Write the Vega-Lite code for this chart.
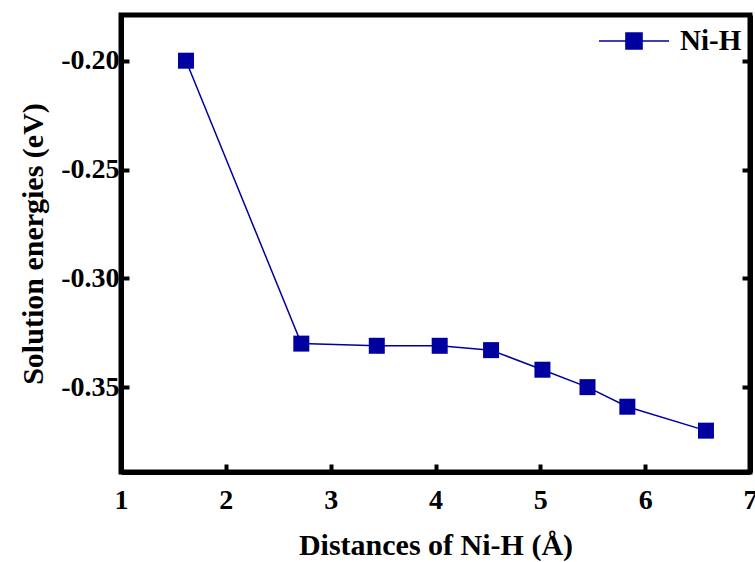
{
  "$schema": "https://vega.github.io/schema/vega-lite/v6.json",
  "width": 629,
  "height": 457,
  "autosize": {"type": "none"},
  "padding": {"left": 121, "top": 15, "right": 5, "bottom": 90},
  "background": "white",
  "config": {
    "view": {"stroke": "black", "strokeWidth": 5},
    "font": "Liberation Serif",
    "axis": {
      "grid": false,
      "domainColor": "black",
      "domainWidth": 5,
      "tickColor": "black",
      "tickWidth": 4,
      "tickSize": -8
    }
  },
  "data": {
    "values": [
      {"d": 1.62, "e": -0.200, "s": "Ni-H"},
      {"d": 2.72, "e": -0.330, "s": "Ni-H"},
      {"d": 3.44, "e": -0.331, "s": "Ni-H"},
      {"d": 4.04, "e": -0.331, "s": "Ni-H"},
      {"d": 4.53, "e": -0.333, "s": "Ni-H"},
      {"d": 5.02, "e": -0.342, "s": "Ni-H"},
      {"d": 5.45, "e": -0.350, "s": "Ni-H"},
      {"d": 5.83, "e": -0.359, "s": "Ni-H"},
      {"d": 6.58, "e": -0.370, "s": "Ni-H"}
    ]
  },
  "layer": [
    {
      "mark": {"type": "line", "strokeWidth": 1.5, "point": {"shape": "square", "size": 256, "filled": true, "opacity": 1}},
      "encoding": {
        "x": {
          "field": "d", "type": "quantitative",
          "scale": {"domain": [1, 7], "nice": false, "zero": false},
          "axis": {
            "values": [1, 2, 3, 4, 5, 6, 7], "format": "d", "title": "Distances of Ni-H (Å)",
            "labelFont": "Liberation Serif", "labelFontWeight": "bold", "labelFontSize": 28, "labelColor": "black",
            "titleFont": "Liberation Serif", "titleFontWeight": "bold", "titleFontSize": 30, "titleColor": "black",
            "titlePadding": 16, "labelPadding": 22, "labelFlush": false
          }
        },
        "y": {
          "field": "e", "type": "quantitative",
          "scale": {"domain": [-0.389, -0.179], "nice": false, "zero": false},
          "axis": {
            "values": [-0.20, -0.25, -0.30, -0.35],
            "labelExpr": "(datum.value < 0 ? '-' : '') + format(abs(datum.value), '.2f')",
            "title": "Solution energies (eV)", "orient": "left",
            "labelFont": "Liberation Serif", "labelFontWeight": "bold", "labelFontSize": 28, "labelColor": "black",
            "titleFont": "Liberation Serif", "titleFontWeight": "bold", "titleFontSize": 30, "titleColor": "black",
            "titlePadding": 12, "labelPadding": 10
          }
        },
        "color": {
          "field": "s", "type": "nominal",
          "scale": {"range": ["#0000A0"]},
          "legend": {
            "title": null,
            "orient": "none",
            "legendX": 477,
            "legendY": -10,
            "symbolType": "M-1,0H1M-0.23,-0.23H0.23V0.23H-0.23Z",
            "symbolSize": 4900,
            "symbolStrokeWidth": 1.5,
            "symbolFillColor": "#0000A0",
            "symbolStrokeColor": "#0000A0",
            "symbolOpacity": 1,
            "labelFont": "Liberation Serif",
            "labelFontWeight": "bold",
            "labelFontSize": 29,
            "labelColor": "black",
            "labelOffset": 10,
            "padding": 0
          }
        }
      }
    },
    {
      "mark": {"type": "point", "opacity": 0},
      "encoding": {
        "x": {"field": "d", "type": "quantitative"},
        "y": {
          "field": "e", "type": "quantitative",
          "axis": {"orient": "right", "values": [-0.20, -0.25, -0.30, -0.35], "labels": false, "title": null}
        }
      }
    }
  ],
  "resolve": {"axis": {"y": "independent"}}
}
